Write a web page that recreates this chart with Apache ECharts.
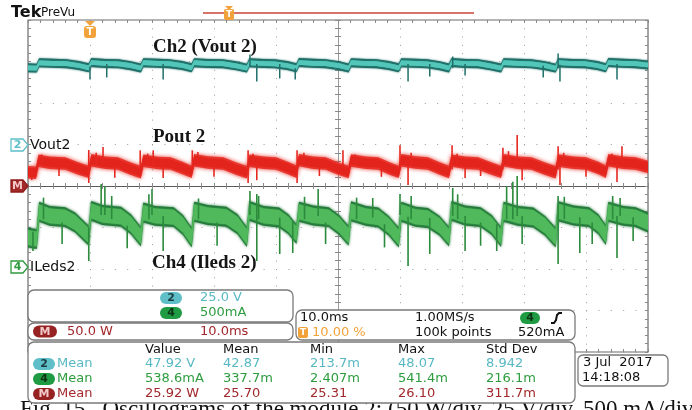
<!DOCTYPE html>
<html><head><meta charset="utf-8">
<script src="https://cdn.jsdelivr.net/npm/echarts@6/dist/echarts.min.js"></script>
<style>html,body{margin:0;padding:0;background:#fff}#c{width:692px;height:410px}</style>
</head><body><div id="c"></div><script>
// ---- data (time in ms, Ch2 in V, Ch4 in mA, Math in W) ----
const ch2Trace = [[0,46.2],[1.4,46.0],[1.8,49.2],[4,48.9],[6.2,48.7],[8.2,47.6],[9.8,46.2],
[10.2,49.4],[12.5,48.8],[14.6,48.6],[16.6,47.5],[18.2,46.1],
[18.6,49.3],[21,48.9],[22.8,48.7],[24.9,47.6],[26.4,46.2],
[26.8,49.3],[29,48.8],[31.4,48.7],[33.6,47.4],[35.3,46.0],
[35.7,49.2],[38,48.8],[39.8,48.6],[41.8,47.6],[43.3,46.2],
[43.7,49.4],[46,48.9],[48,48.7],[50.2,47.5],[51.7,46.1],
[52.1,49.3],[54.5,48.8],[56.2,48.7],[58.2,47.6],[59.8,46.2],
[60.2,49.2],[62.5,48.9],[64.4,48.6],[66.4,47.5],[67.9,46.1],
[68.3,49.4],[70.6,48.8],[72.6,48.7],[74.6,47.4],[76.3,46.1],
[76.7,49.3],[79,48.9],[81.2,48.6],[83.4,47.5],[85.1,46.0],
[85.5,49.3],[87.8,48.8],[89.8,48.7],[91.8,47.6],[93.2,46.2],
[93.6,49.4],[96,48.9],[98,48.7],[100,47.9]];
const mathTrace = [[0,16.5],[1.3,16.0],[1.7,30.5],[3.5,28.0],[6,27.2],[8,21.5],[9.8,17.0],
[10.2,31.0],[12.5,28.0],[14.5,27.0],[16.5,21.0],[18.2,16.5],
[18.6,30.5],[21,27.8],[23,27.0],[25,21.5],[26.4,17.0],
[26.8,31.0],[29,28.2],[31.5,27.0],[33.5,21.0],[35.3,16.5],
[35.7,30.5],[38,28.0],[40,27.2],[42,21.5],[43.3,17.2],
[43.7,31.2],[46,28.0],[48,27.0],[50,21.0],[51.7,16.8],
[52.1,30.8],[54.5,28.0],[56.5,27.2],[58.3,21.2],[59.8,17.0],
[60.2,31.0],[62.5,28.2],[64.5,27.0],[66.4,21.0],[67.9,16.8],
[68.3,30.6],[70.5,28.0],[72.6,27.2],[74.6,21.5],[76.3,17.0],
[76.7,31.0],[79,28.0],[81.2,27.0],[83.3,21.0],[85.1,16.6],
[85.5,30.8],[88,28.1],[90,27.0],[92,21.6],[93.2,17.2],
[93.6,31.0],[96,28.0],[98,27.2],[100,23.0]];
const ch4Trace = [[0,380],[1.4,360],[1.8,690],[3.5,640],[6,625],[7.6,560],[9.8,400],
[10.2,700],[12,650],[15,630],[16.6,540],[18.2,390],
[18.6,680],[20.5,640],[23.5,625],[25,530],[26.4,380],
[26.8,690],[29,650],[32,630],[33.8,540],[35.3,385],
[35.7,700],[38,640],[40.5,620],[42,540],[43.3,420],
[43.7,690],[46,645],[48.5,625],[50.2,530],[51.7,400],
[52.1,695],[54.5,640],[56.5,620],[58.2,520],[59.8,380],
[60.2,690],[62.5,630],[64.5,615],[66.4,520],[67.9,390],
[68.3,700],[70.5,645],[73,625],[74.8,530],[76.3,385],
[76.7,690],[79,640],[81.5,620],[83.4,520],[85.1,380],
[85.5,695],[88,645],[90.5,625],[92,540],[93.2,410],
[93.6,690],[96,640],[98,625],[100,560]];
// noise band half-widths: [outer, inner]
const ch2Noise = [2.7, 1.4];
const mathNoise = [7.5, 5.0];
const ch4Noise = [120, 90];
// spikes: [time ms, low, high]
const ch2Spikes = [[10.0,39.2,47],[12.7,40.4,48.5],[21.8,39.2,48.5],[35.8,47,54.2],[36.9,38.0,48.5],[40.6,39.8,48.5],[43.1,39.2,46],[61.3,38.0,48.5],[64.8,41.0,48.5],[68.5,46,53.0],[70.5,41.6,48.5],[83.1,40.4,47.5],[85.5,46,54.8],[85.8,38.0,48],[95.0,39.2,48.5]];
const mathSpikes = [[0.6,7.2,20],[9.8,3.6,43.4],[12.1,25,47],[18.1,20,43],[20.2,25,43],[21.8,9.6,28],[26.5,20,43],[35.5,3.6,43],[36.9,7,28],[43.4,3.6,43],[50.8,20,43],[60.0,20,49],[61.3,1.2,30],[68.4,20,49],[70.5,9.6,28],[76.6,20,46],[78.9,25,61.5],[79.7,7,27],[85.5,20,48],[85.8,1.2,28],[95.0,4.8,28],[95.8,25,48],
[2.2,25,38],[11.0,25,40],[19.3,25,39],[27.4,25,41],[36.3,25,39],[44.5,25,40],[52.8,25,38],[61.8,25,40],[69.2,25,39],[77.5,25,42],[86.4,25,40],[94.2,25,39],
[5.0,12,25],[14.0,10,24],[30.0,11,24],[47.0,12,24],[57.0,11,24],[73.0,12,24],[90.0,11,24]];
const ch4Spikes = [[0.8,217,450],[9.8,96,500],[11.8,650,1024],[12.4,650,1000],[20.0,650,964],[21.8,217,640],[35.8,650,940],[36.9,96,904],[40.6,181,620],[42.7,193,580],[46.8,640,964],[55.6,620,855],[60.0,650,904],[61.3,36,630],[64.8,181,615],[68.5,640,976],[70.5,217,640],[75.6,217,540],[78.9,640,1120],[79.7,301,640],[85.5,60,880],[89.0,193,625],[95.0,133,640],[95.5,640,855],[97.6,337,625],
[2.5,600,860],[13.5,600,880],[19.5,600,900],[27.5,600,850],[37.2,600,880],[44.6,600,870],[53.0,600,860],[61.8,600,880],[69.3,600,900],[77.2,600,1000],[78.2,600,1050],[86.5,600,870],[94.3,600,880],
[5.5,300,560],[16.0,250,520],[30.5,280,560],[48.0,300,560],[57.5,260,540],[73.0,280,560],[91.0,300,560]];
// texts
const traceTitles = ['Ch2 (Vout 2)', 'Pout 2', 'Ch4 (Ileds 2)'];
const channelLabels = ['Vout2', 'ILeds2'];
const scaleCh2 = '25.0 V', scaleCh4 = '500mA', scaleMath = '50.0 W', mathTime = '10.0ms';
const horizInfo = ['10.0ms', '1.00MS/s', '10.00 %', '100k points', '520mA'];
const measHeaders = ['Value', 'Mean', 'Min', 'Max', 'Std Dev'];
const measCh2 = ['47.92 V', '42.87', '213.7m', '48.07', '8.942'];
const measCh4 = ['538.6mA', '337.7m', '2.407m', '541.4m', '216.1m'];
const measMath = ['25.92 W', '25.70', '25.31', '26.10', '311.7m'];
const dateLines = ['3 Jul  2017', '14:18:08'];
const caption = 'Fig. 15.  Oscillograms of the module 2: (50 W/div, 25 V/div, 500 mA/div, 10 ms/div)';

// ---- chart ----
const chart = echarts.init(document.getElementById('c'), null, {renderer: 'canvas', width: 692, height: 410});
const SANS = '"DejaVu Sans", sans-serif';
const SERIF = '"Liberation Serif", "Times New Roman", serif';
const C_TEAL_T = '#58b9c4', C_GREEN_T = '#2c9c3e', C_RED_T = '#a2282c', C_ORANGE = '#f2a23a';

function gridAxis(extra) {
  return Object.assign({type: 'value', axisLabel: {show: false}, splitLine: {show: false},
    axisTick: {show: true, length: 3, lineStyle: {color: '#8a8a8a'}},
    minorTick: {show: true, splitNumber: 5, length: 3, lineStyle: {color: '#8a8a8a'}}}, extra);
}
const tickInside = {show: true, inside: true, length: 3, lineStyle: {color: '#8a8a8a'}};
const tickOutside = {show: true, inside: false, length: 3, lineStyle: {color: '#8a8a8a'}};

const xAxis = [
  gridAxis({min: -5, max: 5, interval: 1, position: 'bottom', axisLine: {show: true, onZero: true, onZeroAxisIndex: 0, lineStyle: {color: '#5a5a5a', width: 1.2}}, axisTick: tickInside,
    splitLine: {show: true, lineStyle: {color: '#9a9a9a', width: 1, type: [1, 7.3]}}}),
  gridAxis({min: -5, max: 5, interval: 1, position: 'bottom', axisLine: {show: true, onZero: true, onZeroAxisIndex: 0, lineStyle: {color: '#5a5a5a', width: 1.2}}, axisTick: tickOutside}),
  gridAxis({min: -5, max: 5, interval: 1, position: 'top', axisLine: {show: false, onZero: false}, axisTick: tickInside}),
  gridAxis({min: -5, max: 5, interval: 1, position: 'bottom', axisLine: {show: false, onZero: false}, axisTick: tickInside}),
  {type: 'value', min: 0, max: 100, show: false, position: 'top', axisLine: {onZero: false}}
];
const yAxis = [
  gridAxis({min: -4, max: 4, interval: 1, position: 'left', axisLine: {show: true, onZero: true, onZeroAxisIndex: 0, lineStyle: {color: '#9a9a9a', width: 1}}, axisTick: tickInside,
    splitLine: {show: true, lineStyle: {color: '#9a9a9a', width: 1, type: [1, 11.4]}}}),
  gridAxis({min: -4, max: 4, interval: 1, position: 'left', axisLine: {show: true, onZero: true, onZeroAxisIndex: 0, lineStyle: {color: '#9a9a9a', width: 1}}, axisTick: tickOutside}),
  gridAxis({min: -4, max: 4, interval: 1, position: 'left', axisLine: {show: false, onZero: false}, axisTick: tickInside}),
  gridAxis({min: -4, max: 4, interval: 1, position: 'right', axisLine: {show: false, onZero: false}, axisTick: tickInside}),
  {type: 'value', min: -125, max: 75, show: false, position: 'right', axisLine: {onZero: false}},
  {type: 'value', min: -1000, max: 3000, show: false, position: 'right', axisLine: {onZero: false}},
  {type: 'value', min: -200, max: 200, show: false, position: 'right', axisLine: {onZero: false}}
];

// noise envelope of a trace, drawn as a filled band through the axis scale
function envelope(trace, half, yIdx, fill, z, blur) {
  return {type: 'custom', xAxisIndex: 4, yAxisIndex: yIdx, data: [[trace[0][0], trace[0][1]]], silent: true, z: z, clip: true,
    encode: {x: 0, y: 1},
    renderItem: function (params, api) {
      const up = trace.map(function (p) { return api.coord([p[0], p[1] + half]); });
      const dn = trace.slice().reverse().map(function (p) { return api.coord([p[0], p[1] - half]); });
      return {type: 'polygon', shape: {points: up.concat(dn)}, style: {fill: fill, shadowBlur: blur, shadowColor: fill}};
    }};
}
function spikes(data, yIdx, color, width, z) {
  return {type: 'custom', xAxisIndex: 4, yAxisIndex: yIdx, data: data, silent: true, z: z, clip: true, encode: {x: 0, y: [1, 2]},
    renderItem: function (params, api) {
      const a = api.coord([api.value(0), api.value(1)]);
      const b = api.coord([api.value(0), api.value(2)]);
      return {type: 'line', shape: {x1: a[0], y1: a[1], x2: b[0], y2: b[1]}, style: {stroke: color, lineWidth: width}};
    }};
}

// graphic helpers
function txt(x, y, s, font, fill, align) {
  return {type: 'text', x: x, y: y, z: 200, silent: true, style: {text: s, font: font, fill: fill, textAlign: align || 'left', textVerticalAlign: 'middle'}};
}
function box(x, y, w, h, r) {
  return {type: 'rect', z: 150, silent: true, shape: {x: x, y: y, width: w, height: h, r: r}, style: {fill: '#ffffff', stroke: '#7a7a7a', lineWidth: 1.3}};
}
function pill(cx, cy, w, h, fill, label, lfill) {
  return [{type: 'rect', z: 180, silent: true, shape: {x: cx - w / 2, y: cy - h / 2, width: w, height: h, r: h / 2}, style: {fill: fill}},
    txt(cx, cy + 0.5, label, 'bold 11px ' + SANS, lfill, 'center')];
}
function marker(cy, stroke, fill, label, lfill) {
  return [{type: 'polygon', z: 180, silent: true, shape: {points: [[11, cy - 6], [23, cy - 6], [28, cy], [23, cy + 6], [11, cy + 6]]}, style: {fill: fill, stroke: stroke, lineWidth: 1.3}},
    txt(17.5, cy + 0.5, label, 'bold 11px ' + SANS, lfill, 'center')];
}

const F13 = '13px ' + SANS;
const cols = [145, 223, 310, 398, 486];
let g = [];
// header
g.push(txt(11, 13, 'Tek', 'bold 16px ' + SANS, '#111'));
g.push(txt(41, 13, 'PreVu', '12px ' + SANS, '#111'));
g.push({type: 'line', z: 120, silent: true, shape: {x1: 203, y1: 13, x2: 474, y2: 13}, style: {stroke: '#c8453a', lineWidth: 1.5}});
g.push({type: 'rect', z: 130, silent: true, shape: {x: 224, y: 9, width: 10, height: 11, r: 2}, style: {fill: C_ORANGE}});
g.push({type: 'polygon', z: 130, silent: true, shape: {points: [[225, 6], [233, 6], [229, 10]]}, style: {fill: C_ORANGE}});
g.push(txt(229, 15, 'T', 'bold 9px ' + SANS, '#fff', 'center'));
g.push({type: 'polygon', z: 130, silent: true, shape: {points: [[85, 21], [95, 21], [90, 26]]}, style: {fill: C_ORANGE}});
g.push({type: 'rect', z: 130, silent: true, shape: {x: 84, y: 26, width: 12, height: 12, r: 3}, style: {fill: C_ORANGE}});
g.push(txt(90, 32.5, 'T', 'bold 10px ' + SANS, '#fff', 'center'));
// left markers
g = g.concat(marker(145, '#5fbfc8', '#fff', '2', '#5fbfc8'));
g.push(txt(30, 145, channelLabels[0], '14px ' + SANS, '#111'));
g = g.concat(marker(186, '#8f1d1d', '#a42a2a', 'M', '#f2c9c9'));
g = g.concat(marker(267, '#2f9a3f', '#fff', '4', '#2f9a3f'));
g.push(txt(30, 267, channelLabels[1], '14px ' + SANS, '#111'));
// trace titles
g.push(txt(153, 47, traceTitles[0], 'bold 19px ' + SERIF, '#151515'));
g.push(txt(153, 137, traceTitles[1], 'bold 19px ' + SERIF, '#151515'));
g.push(txt(152, 263, traceTitles[2], 'bold 19px ' + SERIF, '#151515'));
// panel A
g.push(box(28, 290, 265, 32, 6));
g = g.concat(pill(171, 298, 22, 12, '#5fbfc8', '2', '#1a3c40'));
g.push(txt(200, 298, scaleCh2, F13, C_TEAL_T));
g = g.concat(pill(171, 313, 22, 12, '#1f9b43', '4', '#0d3315'));
g.push(txt(200, 313, scaleCh4, F13, C_GREEN_T));
// panel B
g.push(box(28, 323, 265, 17, 6));
g = g.concat(pill(45, 331.5, 24, 12, '#962222', 'M', '#f2c9c9'));
g.push(txt(67, 331.5, scaleMath, F13, C_RED_T));
g.push(txt(200, 331.5, mathTime, F13, C_RED_T));
// panel C
g.push(box(296, 310, 279, 30, 6));
g.push(txt(300, 318, horizInfo[0], F13, '#111'));
g.push(txt(415, 318, horizInfo[1], F13, '#111'));
g = g.concat(pill(530, 318, 20, 12, '#1f9b43', '4', '#0d3315'));
g.push({type: 'polyline', z: 190, silent: true, shape: {points: [[551, 323], [554, 323], [556, 320], [557, 315], [559, 313], [562, 313]]}, style: {stroke: '#111', lineWidth: 2, fill: null}});
g.push({type: 'rect', z: 190, silent: true, shape: {x: 298, y: 327, width: 10, height: 11, r: 2}, style: {fill: C_ORANGE}});
g.push(txt(303, 333, 'T', 'bold 9px ' + SANS, '#fff', 'center'));
g.push(txt(312, 333, horizInfo[2], F13, C_ORANGE));
g.push(txt(415, 333, horizInfo[3], F13, '#111'));
g.push(txt(518, 333, horizInfo[4], F13, '#111'));
// panel D
g.push(box(28, 342, 547, 61, 6));
measHeaders.forEach(function (h, i) { g.push(txt(cols[i], 350, h, F13, '#111')); });
const rows = [[measCh2, '#5fbfc8', '2', '#1a3c40', C_TEAL_T, 364], [measCh4, '#1f9b43', '4', '#0d3315', C_GREEN_T, 379], [measMath, '#962222', 'M', '#f2c9c9', C_RED_T, 394]];
rows.forEach(function (r) {
  g = g.concat(pill(44, r[5], 22, 12, r[1], r[2], r[3]));
  g.push(txt(57, r[5], 'Mean', F13, r[4]));
  r[0].forEach(function (v, i) { g.push(txt(cols[i], r[5], v, F13, r[4])); });
});
// date box
g.push(box(578, 355, 90, 31, 5));
g.push(txt(583, 363, dateLines[0], F13, '#111'));
g.push(txt(582, 378, dateLines[1], F13, '#111'));
// caption (cut off at bottom)
g.push({type: 'text', x: 20, y: 398, z: 140, silent: true, style: {text: caption, font: '23px ' + SERIF, fill: '#111', textAlign: 'left', textVerticalAlign: 'top'}});

chart.setOption({
  animation: false,
  backgroundColor: '#ffffff',
  grid: {left: 28, top: 20, width: 620, height: 332, show: true, borderColor: '#6a6a6a', borderWidth: 1.2, backgroundColor: '#fff'},
  xAxis: xAxis,
  yAxis: yAxis,
  series: [
    envelope(ch4Trace, ch4Noise[0], 5, '#23783a', 10, 3),
    envelope(ch4Trace, ch4Noise[1], 5, '#50b95b', 11, 2),
    spikes(ch4Spikes, 5, '#2b8a3c', 1.6, 12),
    envelope(mathTrace, mathNoise[0], 6, '#e8362e', 13, 4),
    envelope(mathTrace, mathNoise[1], 6, '#e3241d', 14, 1),
    spikes(mathSpikes, 6, '#e5271f', 1.6, 15),
    envelope(ch2Trace, ch2Noise[0], 4, '#1f6f68', 16, 2),
    envelope(ch2Trace, ch2Noise[1], 4, '#52c6b9', 17, 1),
    spikes(ch2Spikes, 4, '#1f6f68', 1.5, 18)
  ],
  graphic: {elements: g}
});
</script></body></html>
